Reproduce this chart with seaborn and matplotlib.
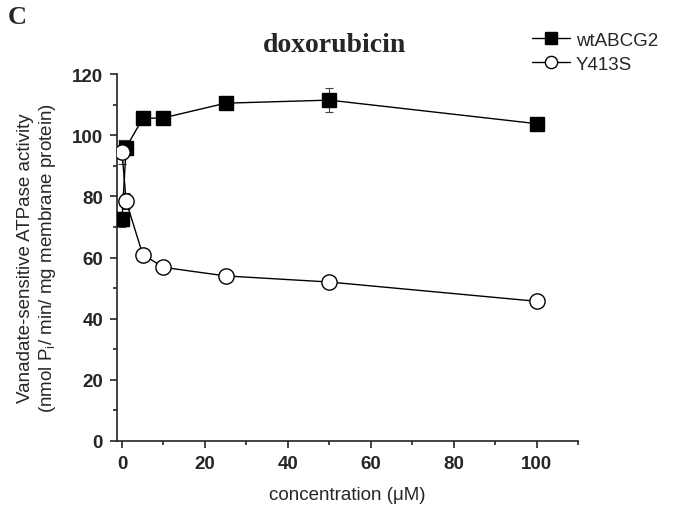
import numpy as np
import pandas as pd
import matplotlib
matplotlib.use("Agg")
import matplotlib.pyplot as plt
import seaborn as sns

# concentrations (uM) and ATPase activity
conc = [0, 1, 5, 10, 25, 50, 100]
wt_vals = [72.5, 96.0, 105.5, 105.7, 110.5, 111.5, 103.8]
wt_err = [2.5, 2.5, 1.0, 1.0, 1.0, 4.0, 1.0]
mut_vals = [94.5, 78.5, 61.0, 56.8, 54.0, 52.0, 45.7]
mut_err = [4.0, 2.5, 1.5, 1.5, 1.5, 1.0, 1.5]
groups = ["wtABCG2", "Y413S"]

sns.set_style("ticks")
plt.rcParams['font.family'] = ['Liberation Sans', 'DejaVu Sans']

df = pd.DataFrame({
    "conc": conc * 2,
    "activity": wt_vals + mut_vals,
    "err": wt_err + mut_err,
    "group": [groups[0]] * len(conc) + [groups[1]] * len(conc),
})

fig = plt.figure(figsize=(6.74, 5.06), dpi=100)
ax = fig.add_axes([0.1736, 0.1265, 0.684, 0.725])

styles = {
    "wtABCG2": dict(marker="s", markerfacecolor="black", markersize=10),
    "Y413S": dict(marker="o", markerfacecolor="white", markersize=11),
}
for name in groups:
    sub = df[df["group"] == name]
    ax.errorbar(sub["conc"], sub["activity"], yerr=sub["err"], fmt="none",
                ecolor="#444444", elinewidth=0.8, capsize=3, capthick=0.8, zorder=2)
    sns.lineplot(data=sub, x="conc", y="activity", ax=ax, color="black",
                 linewidth=1.0, markeredgecolor="black",
                 markeredgewidth=1.0, label=name, zorder=3, **styles[name])

ax.set_xlim(-1.2, 108)
ax.set_ylim(0, 120)
ax.set_xticks(np.arange(0, 101, 20))
ax.set_xticks(np.arange(0, 111, 10), minor=True)
ax.set_yticks(np.arange(0, 121, 20))
ax.set_yticks(np.arange(0, 121, 10), minor=True)
ax.tick_params(axis="both", which="major", direction="out", length=5, width=1.2,
               labelsize=13.5, pad=5)
ax.tick_params(axis="both", which="minor", direction="out", length=3, width=1.2)
for lab in ax.get_xticklabels() + ax.get_yticklabels():
    lab.set_fontweight("bold")
for s in ["top", "right"]:
    ax.spines[s].set_visible(False)
for s in ["left", "bottom"]:
    ax.spines[s].set_linewidth(1.2)
    ax.spines[s].set_color("#222222")

ax.set_xlabel("concentration (\u03bcM)", fontsize=13.5, labelpad=10)
ax.set_ylabel("Vanadate-sensitive ATPase activity\n(nmol P$_\\mathregular{i}$/ min/ mg membrane protein)",
              fontsize=13.5, labelpad=10)

leg = ax.legend(loc="upper left", frameon=False, fontsize=13.5, handlelength=2.0,
                handletextpad=0.3, labelspacing=0.35, borderaxespad=0, borderpad=0,
                markerscale=0.8)
leg.set_bbox_to_anchor((0.79, 0.935), transform=fig.transFigure)

fig.text(0.497, 0.91, "doxorubicin", ha="center", va="center", fontsize=20,
         fontweight="bold", family="Liberation Serif")
fig.text(0.012, 0.965, "C", ha="left", va="center", fontsize=19,
         fontweight="bold", family="Liberation Serif")

fig.savefig("out.png", dpi=100)
